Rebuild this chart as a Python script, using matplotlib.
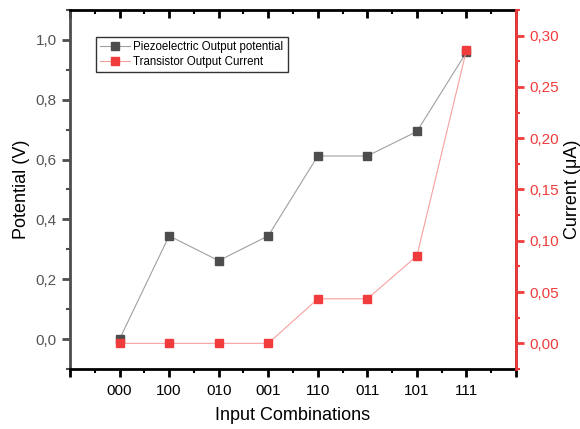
import matplotlib
matplotlib.use("Agg")
import matplotlib.pyplot as plt
from matplotlib.ticker import MultipleLocator, FixedLocator, FuncFormatter

plt.rcParams['font.family'] = ['Liberation Sans', 'DejaVu Sans']

combos = ['000', '100', '010', '001', '110', '011', '101', '111']
potential = [0.0, 0.345, 0.262, 0.345, 0.612, 0.612, 0.694, 0.959]
current = [0.0, 0.0, 0.0, 0.0, 0.0434, 0.0434, 0.0852, 0.286]

GRAY = '#4d4d4d'
RED = '#f03c3c'

fig = plt.figure(figsize=(5.8, 4.29), dpi=100)
ax = fig.add_axes([0.1207, 0.1399, 0.7690, 0.8368])
ax2 = ax.twinx()

xpos = list(range(1, len(combos) + 1))

l1, = ax.plot(xpos, potential, color='#a0a0a0', lw=0.8, marker='s', ms=6,
              mfc=GRAY, mec=GRAY, label='Piezoelectric Output potential', zorder=3)
l2, = ax2.plot(xpos, current, color='#f7a0a0', lw=0.8, marker='s', ms=6,
               mfc=RED, mec=RED, label='Transistor Output Current', zorder=3)

comma = FuncFormatter(lambda v, p: f'{v:.1f}'.replace('.', ','))
comma2 = FuncFormatter(lambda v, p: f'{v:.2f}'.replace('.', ','))

ax.set_xlim(0, 9)
ax.xaxis.set_major_locator(FixedLocator(range(0, 10)))
ax.xaxis.set_minor_locator(MultipleLocator(0.5))
ax.set_xticklabels([''] + combos + [''])
ax.set_ylim(-0.1, 1.1)
ax.yaxis.set_major_locator(MultipleLocator(0.2))
ax.yaxis.set_minor_locator(MultipleLocator(0.1))
ax.yaxis.set_major_formatter(comma)

ax2.set_ylim(-0.025, 0.325)
ax2.yaxis.set_major_locator(MultipleLocator(0.05))
ax2.yaxis.set_minor_locator(MultipleLocator(0.025))
ax2.yaxis.set_major_formatter(comma2)

for a in (ax, ax2):
    for s in a.spines.values():
        s.set_linewidth(2)
ax.spines['left'].set_color(GRAY)
ax.spines['bottom'].set_color('black')
ax.spines['top'].set_color('black')
ax2.spines['right'].set_color(RED)
ax2.spines['left'].set_visible(False)
ax2.spines['top'].set_visible(False)
ax2.spines['bottom'].set_visible(False)

ax.tick_params(axis='x', which='major', direction='out', length=6, width=2,
               colors='black', labelsize=11, pad=5)
ax.tick_params(axis='x', which='minor', direction='out', length=3, width=1.5)
ax.tick_params(axis='x', which='both', top=True, labeltop=False)
ax.tick_params(axis='y', which='major', direction='out', length=6, width=2,
               color=GRAY, labelcolor='#555555', labelsize=11)
ax.tick_params(axis='y', which='minor', direction='out', length=3, width=1.5, color=GRAY)
ax2.tick_params(axis='y', which='major', direction='out', length=6, width=2,
                color=RED, labelcolor=RED, labelsize=11)
ax2.tick_params(axis='y', which='minor', direction='out', length=3, width=1.5, color=RED)

# top spine ticks point inward
for t in ax.xaxis.get_major_ticks() + ax.xaxis.get_minor_ticks():
    t.tick2line.set_marker(3)

ax.set_xlabel('Input Combinations', fontsize=13, labelpad=6)
ax.set_ylabel('Potential (V)', fontsize=13, labelpad=4)
ax2.set_ylabel('Current (μA)', fontsize=13, labelpad=4)

leg = ax.legend(handles=[l1, l2], loc='upper left', bbox_to_anchor=(0.058, 0.925),
                borderaxespad=0, fontsize=8.3, frameon=True, fancybox=False,
                edgecolor='black', borderpad=0.35, handlelength=2.6,
                handletextpad=0.3, labelspacing=0.3)
leg.get_frame().set_linewidth(1)

fig.savefig('out.png', dpi=100)
